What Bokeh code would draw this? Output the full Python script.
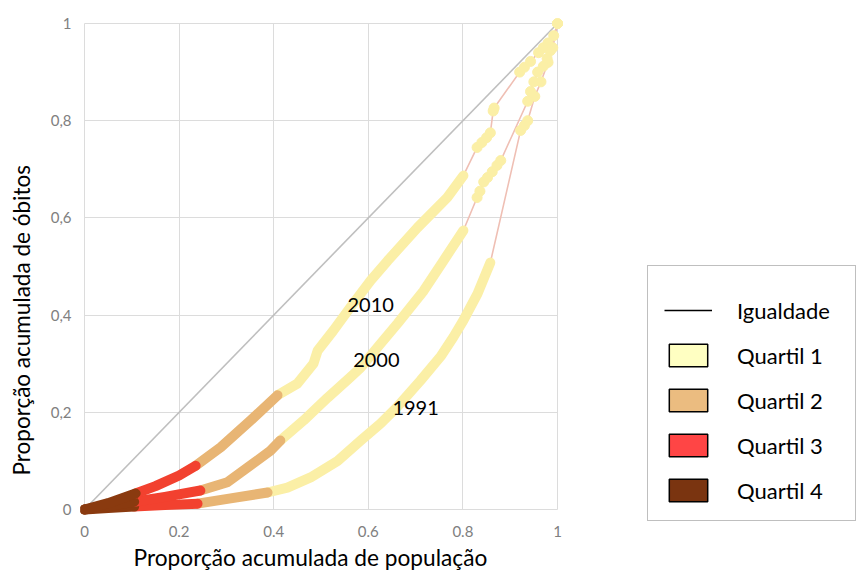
from bokeh.plotting import figure
from bokeh.models import (Range1d, FixedTicker, Label, Legend, LegendItem,
                          ColumnDataSource, Title)
from bokeh.embed import file_html
from bokeh.resources import INLINE

# ---------------- data ----------------
ticks = [0.0, 0.2, 0.4, 0.6, 0.8, 1.0]
x_tick_labels = ["0", "0.2", "0.4", "0.6", "0.8", "1"]
y_tick_labels = ["0", "0,2", "0,4", "0,6", "0,8", "1"]

x_title = "Proporção acumulada de população"
y_title = "Proporção acumulada de óbitos"

years = ["1991", "2000", "2010"]
year_label_x = [0.70, 0.617, 0.605]
year_label_y = [0.208, 0.307, 0.42]

equality_x = [0.0, 1.0]
equality_y = [0.0, 1.0]

quartile_names = ["Quartil 1", "Quartil 2", "Quartil 3", "Quartil 4"]

# dense part of each curve (x, y, quartile of the municipality group)
x_1991 = [0, 0.05, 0.105, 0.17, 0.239, 0.309, 0.387, 0.429, 0.478, 0.535, 0.584,
          0.626, 0.66, 0.71, 0.753, 0.78, 0.801, 0.831, 0.858]
y_1991 = [0, 0.003, 0.006, 0.009, 0.012, 0.023, 0.035, 0.045, 0.066, 0.10, 0.142,
          0.177, 0.21, 0.265, 0.315, 0.355, 0.389, 0.444, 0.508]
q_1991 = [4, 4, 3, 3, 2, 2, 1, 1, 1, 1, 1, 1, 1, 1, 1, 1, 1, 1, 1]
tail_x_1991 = [0.922, 0.93, 0.937, 0.952, 0.965, 0.98, 0.99, 1.0]
tail_y_1991 = [0.78, 0.79, 0.80, 0.85, 0.88, 0.92, 0.95, 1.0]

x_2000 = [0, 0.05, 0.105, 0.17, 0.245, 0.302, 0.357, 0.393, 0.414, 0.463, 0.514,
          0.562, 0.584, 0.619, 0.662, 0.717, 0.759, 0.801]
y_2000 = [0, 0.007, 0.016, 0.026, 0.039, 0.056, 0.095, 0.121, 0.142, 0.183, 0.23,
          0.272, 0.292, 0.333, 0.383, 0.45, 0.512, 0.574]
q_2000 = [4, 4, 3, 3, 2, 2, 2, 2, 1, 1, 1, 1, 1, 1, 1, 1, 1, 1]
tail_x_2000 = [0.83, 0.836, 0.844, 0.852, 0.862, 0.872, 0.88, 0.937, 0.943, 0.95,
               0.958, 0.97, 0.978, 0.985, 1.0]
tail_y_2000 = [0.642, 0.655, 0.674, 0.683, 0.695, 0.708, 0.718, 0.84, 0.86, 0.88,
               0.90, 0.912, 0.928, 0.944, 1.0]

x_2010 = [0, 0.05, 0.108, 0.15, 0.2, 0.235, 0.288, 0.351, 0.408, 0.45, 0.484,
          0.493, 0.526, 0.562, 0.605, 0.641, 0.704, 0.767, 0.801]
y_2010 = [0, 0.013, 0.033, 0.048, 0.07, 0.09, 0.128, 0.183, 0.235, 0.259, 0.30,
          0.327, 0.368, 0.416, 0.471, 0.512, 0.58, 0.642, 0.687]
q_2010 = [4, 4, 3, 3, 3, 2, 2, 2, 1, 1, 1, 1, 1, 1, 1, 1, 1, 1, 1]
tail_x_2010 = [0.83, 0.84, 0.85, 0.858, 0.864, 0.866, 0.92, 0.93, 0.943, 0.96,
               0.97, 0.98, 0.992, 1.0]
tail_y_2010 = [0.745, 0.755, 0.765, 0.775, 0.82, 0.826, 0.90, 0.91, 0.922, 0.94,
               0.95, 0.96, 0.975, 1.0]

curves = [
    (x_1991, y_1991, q_1991, tail_x_1991, tail_y_1991),
    (x_2000, y_2000, q_2000, tail_x_2000, tail_y_2000),
    (x_2010, y_2010, q_2010, tail_x_2010, tail_y_2010),
]

# ---------------- layout geometry (pixels) ----------------
W, H = 856, 576
FRAME_L, FRAME_T, FRAME_R, FRAME_B = 80, 18, 856, 524   # drawing area
X0_PX, X1_PX = 84, 557      # where x = 0 and x = 1 fall
Y0_PX, Y1_PX = 509, 23      # where y = 0 and y = 1 fall
sx = 1.0 / (X1_PX - X0_PX)
sy = 1.0 / (Y0_PX - Y1_PX)
x_rng = Range1d(-(X0_PX - FRAME_L) * sx, 1 + (FRAME_R - X1_PX) * sx)
y_rng = Range1d(-(FRAME_B - Y0_PX) * sy, 1 + (Y1_PX - FRAME_T) * sy)

# ---------------- styles ----------------
curve_colors = {1: "#FBEFA6", 2: "#E8B574", 3: "#F2412F", 4: "#8A3A0F"}
legend_colors = {1: "#FFFFC2", 2: "#EBBC80", 3: "#FF4545", 4: "#7A3410"}
FONT = "Lato"
NAN = float("nan")

p = figure(width=W, height=H, x_range=x_rng, y_range=y_rng,
           output_backend="svg", toolbar_location=None,
           min_border_left=FRAME_L, min_border_right=W - FRAME_R,
           min_border_top=FRAME_T, min_border_bottom=H - FRAME_B)
p.outline_line_color = None

for ax, labels in ((p.xaxis[0], x_tick_labels), (p.yaxis[0], y_tick_labels)):
    ax.ticker = FixedTicker(ticks=ticks)
    ax.major_label_overrides = {t: l for t, l in zip(ticks, labels)}
    ax.axis_line_color = None
    ax.major_tick_line_color = None
    ax.minor_tick_line_color = None
    ax.major_tick_out = 0
    ax.major_tick_in = 0
    ax.major_label_text_font = FONT
    ax.major_label_text_font_size = "15px"
    ax.major_label_text_color = "#808080"
p.xaxis.major_label_standoff = 16 - (FRAME_B - Y0_PX)
p.yaxis.major_label_standoff = 13 - (X0_PX - FRAME_L)
# small empty spacer between the y tick labels and the y title
p.yaxis.axis_label = " "
p.yaxis.axis_label_text_font_size = "1px"
p.yaxis.axis_label_standoff = 5

for g in (p.xgrid[0], p.ygrid[0]):
    g.ticker = FixedTicker(ticks=ticks)
    g.grid_line_color = "#DCDCDC"
    g.grid_line_width = 1
    g.cross_bounds = (0, 1)

# axis titles
p.add_layout(Title(text=y_title, align="left", offset=49, standoff=8,
                   text_font=FONT, text_font_size="22.5px", text_font_style="normal",
                   text_color="black"), "left")
p.add_layout(Title(text=x_title, align="left", offset=53, standoff=4,
                   text_font=FONT, text_font_size="22.7px", text_font_style="normal",
                   text_color="black"), "below")

# equality line
p.line(equality_x, equality_y, line_color="#BFBFBF", line_width=1.6)

# thin connecting lines
for xs, ys, qs, tx, ty in curves:
    p.line(xs + tx, ys + ty, line_color="#EFBFB4", line_width=1.6)

# thick quartile segments and sparse tail points
for xs, ys, qs, tx, ty in curves:
    p.scatter(tx, ty, size=10, marker="circle", fill_color=curve_colors[1],
              line_color=curve_colors[1])
    for q in (1, 2, 3, 4):
        idx = [i for i, v in enumerate(qs) if v == q]
        if not idx:
            continue
        a = idx[0]
        b = min(idx[-1] + 1, len(xs) - 1)
        p.line(xs[a:b + 1], ys[a:b + 1], line_color=curve_colors[q],
               line_width=10, line_cap="round", line_join="round")

# year labels
for yr, lx, ly in zip(years, year_label_x, year_label_y):
    p.add_layout(Label(x=lx, y=ly, text=yr, text_align="center",
                       text_baseline="middle", text_font=FONT,
                       text_font_size="20px", text_color="black"))

# ---------------- legend ----------------
r_eq = p.line(x=[NAN, NAN], y=[NAN, NAN], line_color="black", line_width=1.5)
items = [LegendItem(label="Igualdade", renderers=[r_eq])]
for q, name in zip((1, 2, 3, 4), quartile_names):
    src = ColumnDataSource(data=dict(l=[NAN], r=[NAN], t=[NAN], b=[NAN]))
    rq = p.quad(left="l", right="r", top="t", bottom="b", source=src,
                fill_color=legend_colors[q], line_color="black", line_width=1.5)
    items.append(LegendItem(label=name, renderers=[rq]))

legend = Legend(items=items, location=(648 - FRAME_L - 1, FRAME_B - 521),
                title=" ", title_text_font_size="1px", title_standoff=13,
                padding=16, spacing=17,
                glyph_width=48, glyph_height=28, label_height=28, label_width=102,
                label_standoff=25, margin=0, border_line_color="#7F7F7F",
                border_line_width=1.5, background_fill_color="white",
                background_fill_alpha=1.0, label_text_font=FONT,
                label_text_font_size="22px", label_text_color="black")
p.add_layout(legend)

open("out.html", "w").write(file_html(p, INLINE))
